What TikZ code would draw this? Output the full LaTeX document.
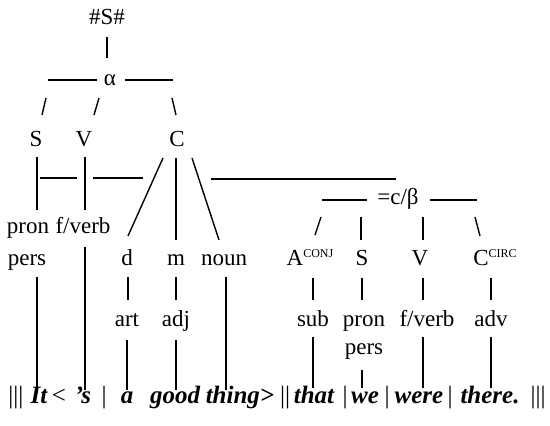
\documentclass[tikz,border=0pt]{standalone}
\usepackage{fontspec}
\setmainfont{Liberation Serif}
\usepackage{tikz}

\begin{document}
\begin{tikzpicture}[x=0.5pt,y=-0.5pt,
		lbl/.style={anchor=base, inner sep=0pt, font=\fontsize{11.5}{13}\selectfont},
		word/.style={anchor=base, inner sep=0pt, font=\fontsize{12.5}{15}\selectfont\bfseries\itshape},
		bar/.style={anchor=base, inner sep=0pt, font=\fontsize{12.5}{15}\selectfont},
		ln/.style={line width=0.7pt}]
		\useasboundingbox (0,0) rectangle (550,426);
		\def\supA{\raisebox{4pt}{\fontsize{6}{6}\selectfont CONJ}}
		\def\supC{\raisebox{4pt}{\fontsize{6}{6}\selectfont CIRC}}

		% --- LEFT: main clause ---
		\node[lbl] (top) at (107,25) {\#S\#};
		\node[lbl] (alpha) at (110,86) {α};
		\node[lbl] (S1) at (36,147) {S};
		\node[lbl] (V1) at (84,147) {V};
		\node[lbl] (C1) at (177,147) {C};
		\node[lbl] (pron1) at (28,234) {pron};
		\node[lbl] (fverb1) at (83,234) {f/verb};
		\node[lbl] (pers1) at (27,266) {pers};
		\node[lbl] (d) at (127,266) {d};
		\node[lbl] (m) at (176,266) {m};
		\node[lbl] (noun) at (224,266) {noun};
		\node[lbl] (art) at (127,327) {art};
		\node[lbl] (adj) at (176,327) {adj};

		% --- RIGHT: embedded clause ---
		\node[lbl] (beta) at (398,205) {=c/β};
		\node[lbl] (A2) at (310,266) {A\supA};
		\node[lbl] (S2) at (362,266) {S};
		\node[lbl] (V2) at (420,266) {V};
		\node[lbl] (C2) at (495,266) {C\supC};
		\node[lbl] (sub) at (313,327) {sub};
		\node[lbl] (pron2) at (364,327) {pron};
		\node[lbl] (fverb2) at (427,327) {f/verb};
		\node[lbl] (adv) at (491,327) {adv};
		\node[lbl] (pers2) at (364,355) {pers};

		% --- bottom line ---
		\node[word] (It) at (39,403) {It};
		\node[word] (s) at (83,403) {’s};
		\node[word] (a) at (127,403) {a};
		\node[word] (good) at (175,403) {good};
		\node[word] (thing) at (240,403) {thing>};
		\node[word] (that) at (314,403) {that};
		\node[word] (we) at (365,403) {we};
		\node[word] (were) at (419,403) {were};
		\node[word] (there) at (490,403) {there.};
		\foreach \x/\t [count=\i] in {16/{|||},59/{<},104/{|},285/{||},345/{|},387/{|},450/{|},538/{|||}}
			\node[bar] (sep\i) at (\x,403) {\t};

		% --- lines under #S# and alpha ---
		\draw[ln] ([shift={(0,12)}]top.base) -- ([shift={(-3,-28)}]alpha.base);
		\draw[ln] ([shift={(-62,-6)}]alpha.base) -- ++(49,0);
		\draw[ln] ([shift={(15,-6)}]alpha.base) -- ++(48,0);
		\draw[ln] ([shift={(-64,12)}]alpha.base) -- ([shift={(6,-32)}]S1.base);
		\draw[ln] ([shift={(-11,12)}]alpha.base) -- ([shift={(10,-32)}]V1.base);
		\draw[ln] ([shift={(62,12)}]alpha.base) -- ([shift={(-1,-32)}]C1.base);

		% --- S V C downwards ---
		\draw[ln] ([shift={(1,10)}]S1.base) -- ([shift={(9,-24)}]pron1.base);
		\draw[ln] ([shift={(1,10)}]V1.base) -- ([shift={(2,-24)}]fverb1.base);
		\draw[ln] ([shift={(4,31)}]S1.base) -- ++(37,0);
		\draw[ln] ([shift={(9,31)}]V1.base) -- ++(50,0);
		\draw[ln] ([shift={(-14,11)}]C1.base) -- ([shift={(1,-30)}]d.base);
		\draw[ln] ([shift={(-1,11)}]C1.base) -- ([shift={(0,-26)}]m.base);
		\draw[ln] ([shift={(15,11)}]C1.base) -- ([shift={(-5,-26)}]noun.base);
		\draw[ln] ([shift={(34,32)}]C1.base) -- ([shift={(-2,-26)}]beta.base);

		% --- beta and its branches ---
		\draw[ln] ([shift={(-76,-5)}]beta.base) -- ++(45,0);
		\draw[ln] ([shift={(32,-5)}]beta.base) -- ++(47,0);
		\draw[ln] ([shift={(11,-49)}]A2.base) -- ([shift={(5,-31)}]A2.base);
		\draw[ln] ([shift={(-1,-49)}]S2.base) -- ([shift={(-1,-26)}]S2.base);
		\draw[ln] ([shift={(3,-49)}]V2.base) -- ([shift={(3,-26)}]V2.base);
		\draw[ln] ([shift={(-20,-49)}]C2.base) -- ([shift={(-15,-30)}]C2.base);

		% --- word classes ---
		\draw[ln] ([shift={(10,11)}]pers1.base) -- ([shift={(-2,-10)}]It.base);
		\draw[ln] ([shift={(2,13)}]fverb1.base) -- ([shift={(2,-13)}]s.base);
		\draw[ln] ([shift={(1,11)}]d.base) -- ([shift={(1,-27)}]art.base);
		\draw[ln] ([shift={(0,11)}]m.base) -- ([shift={(0,-27)}]adj.base);
		\draw[ln] ([shift={(0,13)}]art.base) -- ([shift={(0,-13)}]a.base);
		\draw[ln] ([shift={(0,13)}]adj.base) -- ([shift={(1,-13)}]good.base);
		\draw[ln] ([shift={(2,11)}]noun.base) -- ([shift={(-14,-13)}]thing.base);
		\draw[ln] ([shift={(3,12)}]A2.base) -- ([shift={(0,-27)}]sub.base);
		\draw[ln] ([shift={(0,12)}]S2.base) -- ([shift={(-2,-27)}]pron2.base);
		\draw[ln] ([shift={(3,12)}]V2.base) -- ([shift={(-4,-27)}]fverb2.base);
		\draw[ln] ([shift={(-4,12)}]C2.base) -- ([shift={(0,-27)}]adv.base);
		\draw[ln] ([shift={(0,10)}]sub.base) -- ([shift={(-1,-15)}]that.base);
		\draw[ln] ([shift={(-2,15)}]pers2.base) -- ([shift={(-3,-15)}]we.base);
		\draw[ln] ([shift={(-4,10)}]fverb2.base) -- ([shift={(4,-15)}]were.base);
		\draw[ln] ([shift={(0,10)}]adv.base) -- ([shift={(1,-15)}]there.base);
	\end{tikzpicture}
\end{document}
